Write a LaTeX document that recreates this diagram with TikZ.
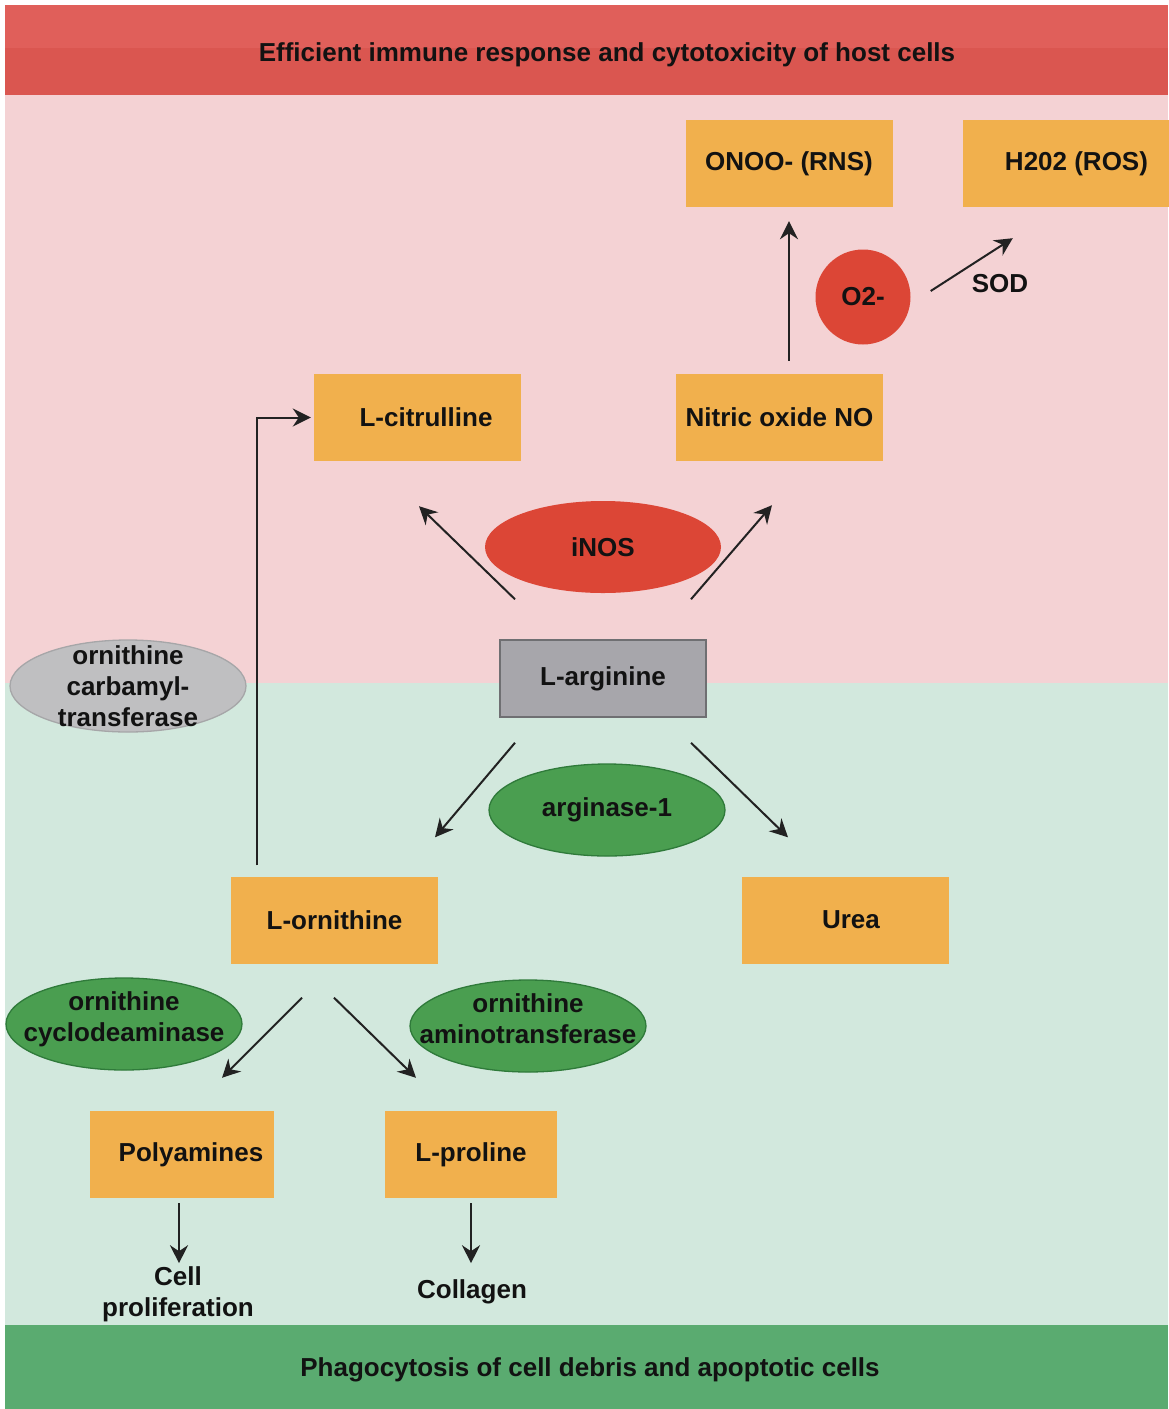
\documentclass[tikz,border=0pt]{standalone}
\usepackage{fontspec}
\setmainfont{Liberation Sans}
\usepackage{xcolor}
\definecolor{bandredtop}{HTML}{E05F5A}
\definecolor{bandred}{HTML}{DA5650}
\definecolor{zonepink}{HTML}{F4D2D4}
\definecolor{zonegreen}{HTML}{D2E8DD}
\definecolor{bandgreen}{HTML}{5AAB70}
\definecolor{metab}{HTML}{F1B04D}
\definecolor{substr}{HTML}{A7A6AB}
\definecolor{substrline}{HTML}{6F6F72}
\definecolor{enzred}{HTML}{DC4636}
\definecolor{enzgreen}{HTML}{4A9E50}
\definecolor{enzgreenline}{HTML}{2F7A3A}
\definecolor{enzgray}{HTML}{BFBFC1}
\definecolor{enzgrayline}{HTML}{A6A6A8}
\definecolor{arrowgray}{HTML}{222222}
\usetikzlibrary{shapes.geometric}
\usetikzlibrary{arrows.meta}
\usetikzlibrary{positioning}

\begin{document}
\begin{tikzpicture}[x=1pt, y=-1pt,
    every node/.style={font=\bfseries\fontsize{26}{31}\selectfont, align=center, text=black!93},
    metabox/.style={rectangle, fill=metab, minimum width=207pt, minimum height=87pt, inner sep=0pt},
    enzyme/.style={ellipse, minimum width=236pt, minimum height=92pt, inner sep=0pt, line width=1.3pt},
    reaction/.style={draw=arrowgray, line width=2pt, -{Stealth[length=18pt, width=18pt, inset=6pt]}}]

    % page and the two zones
    \useasboundingbox (0,0) rectangle (1168,1409);
    \fill[white] (0,0) rectangle (1168,1409);
    \fill[zonepink] (5,95) rectangle (1168,683);
    \fill[zonegreen] (5,683) rectangle (1168,1325);
    \fill[bandredtop] (5,5) rectangle (1168,48);
    \fill[bandred] (5,48) rectangle (1168,95);
    \fill[bandgreen] (5,1325) rectangle (1168,1409);
    \node (host) at (607,55) {Efficient immune response and cytotoxicity of host cells};
    \node (phago) at (590,1370) {Phagocytosis of cell debris and apoptotic cells};

    % iNOS side
    \node[metabox] (onoo) at (789,163.5) {ONOO- (RNS)};
    \node[metabox, minimum width=227pt] (hoo) at (1076.5,163.5) {H202 (ROS)};
    \node[circle, fill=enzred, minimum size=95pt, inner sep=0pt] (otwo) at (863,297) {O2-};
    \node (sod) at (1000,284) {SOD};
    \node[metabox] (cit) at (417.5,417.5) {\hspace{17pt}L-citrulline};
    \node[metabox] (no) at (779.5,417.5) {Nitric oxide NO};
    \node[enzyme, fill=enzred] (inos) at (603,547) {iNOS};
    \node[rectangle, fill=substr, draw=substrline, line width=1.5pt, minimum width=206pt, minimum height=77pt] (arg) at (603,678.5) {L-arginine};
    \node[enzyme, fill=enzgray, draw=enzgrayline, label={center:{ornithine\\carbamyl-\\transferase}}] (oct) at (128,686) {};

    % arginase side
    \node[enzyme, fill=enzgreen, draw=enzgreenline] (arg1) at (607,810) {arginase-1};
    \node[metabox] (orn) at (334.5,920) {L-ornithine};
    \node[metabox] (urea) at (845.5,920) {\hspace{11pt}Urea};
    \node[enzyme, fill=enzgreen, draw=enzgreenline, label={[yshift=5pt]center:{ornithine\\cyclodeaminase}}] (ocd) at (124,1024) {};
    \node[enzyme, fill=enzgreen, draw=enzgreenline, label={[yshift=7pt]center:{ornithine\\aminotransferase}}] (oat) at (528,1026) {};
    \node[metabox, minimum width=184pt] (poly) at (182,1154.5) {\hspace{18pt}Polyamines};
    \node[metabox, minimum width=172pt] (pro) at (471,1154.5) {L-proline};
    \node (cellp) at (178,1294) {Cell\\proliferation};
    \node (coll) at (472,1292) {Collagen};

    % arrows
    \draw[reaction] ([yshift=13pt]no.north -| onoo.south) -- ([yshift=-14pt]onoo.south);
    \draw[reaction] ([xshift=20pt,yshift=6pt]otwo.east) -- ([xshift=50pt,yshift=-31pt]hoo.south west);
    \draw[reaction] ([xshift=-88pt,yshift=40pt]arg.north) -- ([xshift=1.5pt,yshift=-45pt]cit.south);
    \draw[reaction] ([xshift=88pt,yshift=40pt]arg.north) -- ([xshift=-7.5pt,yshift=-44pt]no.south);
    \draw[reaction] ([xshift=-88pt,yshift=-25pt]arg.south) -- ([xshift=100.5pt,yshift=39pt]orn.north);
    \draw[reaction] ([xshift=88pt,yshift=-25pt]arg.south) -- ([xshift=-57.5pt,yshift=39pt]urea.north);
    \draw[reaction] ([xshift=26pt,yshift=11pt]orn.north west) |- ([xshift=-3pt]cit.west);
    \draw[reaction] ([xshift=-32.5pt,yshift=-34pt]orn.south) -- ([xshift=40pt,yshift=33pt]poly.north);
    \draw[reaction] ([xshift=-0.5pt,yshift=-34pt]orn.south) -- ([xshift=-55pt,yshift=33pt]pro.north);
    \draw[reaction] ([xshift=-3pt,yshift=-5pt]poly.south) -- ([xshift=-3pt,yshift=-65pt]poly.south);
    \draw[reaction] ([yshift=-5pt]pro.south) -- ([yshift=-65pt]pro.south);

\end{tikzpicture}
\end{document}
